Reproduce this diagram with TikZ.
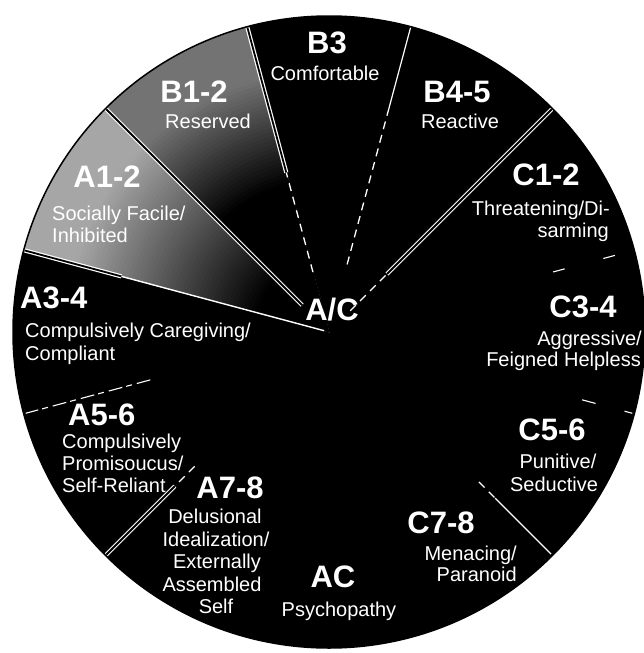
\documentclass[tikz,border=0pt]{standalone}
\usepackage{fontspec}
\setmainfont{Liberation Sans}
\tikzset{
  dline/.style={draw=white, line width=1.2pt, double=black, double distance=1.8pt},
  sline/.style={draw=white, line width=1.4pt},
  dashline/.style={draw=white, line width=1.3pt, dash pattern=on 8pt off 6pt},
  code/.style={text=white, font=\fontsize{31}{33}\selectfont\bfseries, inner sep=0pt},
  desc/.style={text=white, font=\fontsize{20}{22}\selectfont, inner sep=0pt},
}
\begin{document}
\begin{tikzpicture}[x=1pt,y=1pt]
\useasboundingbox (0,0) rectangle (644,-653);
\fill[white] (0,0) rectangle (644,-653);
\begin{scope}[shift={(329,-332)}]
  \fill[black] (0,0) circle (316);
  % B1-2 sector, grey towards the rim
  \begin{scope}
    \clip (0,0) -- (105:316) arc[start angle=105, end angle=135, radius=316] -- cycle;
    \foreach \r in {316,312,...,150} {
      \pgfmathsetmacro\p{max(55,min(100,100-45*(\r-155)/110))}
      \fill[black!\p] (0,0) circle (\r);
    }
  \end{scope}
  % A1-2 sector, light grey
  \begin{scope}
    \clip (0,0) -- (135:316) arc[start angle=135, end angle=165, radius=316] -- cycle;
    \foreach \r in {316,312,...,70} {
      \pgfmathsetmacro\p{max(35,min(100,100-65*(\r-75)/190))}
      \fill[black!\p] (0,0) circle (\r);
    }
  \end{scope}
  \draw[black, line width=1.5pt] (0,0) circle (316);
  % sector boundaries
  \draw[dline] (135:38) -- (135:315);
  \draw[sline] (165:5) -- (165:215);
  \draw[dline] (165:215) -- (165:315);
  \draw[dline] (105:165) -- (105:315);
  \draw[dashline] (105:62) -- (105:165);
  \draw[sline, line width=1.2pt] (75:230) -- (75:315);
  \draw[dashline] (75:70) -- (75:230);
  \draw[dline] (45:82) -- (45:315);
  \draw[dashline] (45:30) -- (45:82);
  \draw[dline] (225:218) -- (225:315);
  \draw[dashline] (225:190) -- (225:218);
  \draw[sline] (315:235) -- (315:314);
  \draw[dashline] (315:212) -- (315:235);
  \draw[dashline, line width=1.1pt, dash pattern=on 14pt off 5pt on 6pt off 4pt] (195:185) -- (195:314);
  \draw[dashline, line width=1.1pt, dash pattern=on 12pt off 40pt] (15:232) -- (15:314);
  \draw[dashline, line width=1.1pt, dash pattern=on 14pt off 30pt] (-15:262) -- (-15:314);
\end{scope}
% labels
\node[code, anchor=base] (b3) at (327,-53) {B3};
\node[desc, anchor=base] (b3d) at (325,-80) {Comfortable};
\node[code, anchor=base] (b12) at (194,-102) {B1-2};
\node[desc, anchor=base] (b12d) at (208,-128) {Reserved};
\node[code, anchor=base] (b45) at (457,-102) {B4-5};
\node[desc, anchor=base] (b45d) at (460,-128) {Reactive};
\node[code, anchor=base] (a12) at (107,-187) {A1-2};
\node[desc, anchor=base west] (a12d1) at (52,-220) {Socially Facile/};
\node[desc, anchor=base west] (a12d2) at (52,-242) {Inhibited};
\node[code, anchor=base] (c12) at (546,-185) {C1-2};
\node[desc, anchor=base east] (c12d1) at (610,-215) {Threatening/Di-};
\node[desc, anchor=base east] (c12d2) at (609,-237) {sarming};
\node[code, anchor=base west] (a34) at (20,-308) {A3-4};
\node[desc, anchor=base west] (a34d1) at (25,-337) {Compulsively Caregiving/};
\node[desc, anchor=base west] (a34d2) at (25,-360) {Compliant};
\node[code, anchor=base] (c34) at (583,-317) {C3-4};
\node[desc, anchor=base east] (c34d1) at (642,-345) {Aggressive/};
\node[desc, anchor=base east] (c34d2) at (641,-366) {Feigned Helpless};
\node[code, anchor=base west] (a56) at (68,-425) {A5-6};
\node[desc, anchor=base west] (a56d1) at (62,-448) {Compulsively};
\node[desc, anchor=base west] (a56d2) at (62,-470) {Promisoucus/};
\node[desc, anchor=base west] (a56d3) at (62,-492) {Self-Reliant};
\node[code, anchor=base] (a78) at (230,-498) {A7-8};
\node[desc, anchor=base] (a78d1) at (215,-523) {Delusional};
\node[desc, anchor=base] (a78d2) at (216,-546) {Idealization/};
\node[desc, anchor=base] (a78d3) at (217,-568) {Externally};
\node[desc, anchor=base] (a78d4) at (212,-591) {Assembled};
\node[desc, anchor=base] (a78d5) at (216,-613) {Self};
\node[code, anchor=base] (c56) at (552,-440) {C5-6};
\node[desc, anchor=base] (c56d1) at (558,-468) {Punitive/};
\node[desc, anchor=base] (c56d2) at (554,-491) {Seductive};
\node[code, anchor=base] (c78) at (441,-533) {C7-8};
\node[desc, anchor=base east] (c78d1) at (517,-560) {Menacing/};
\node[desc, anchor=base east] (c78d2) at (517,-581) {Paranoid};
\node[code, anchor=base] (ac) at (333,-587) {AC};
\node[desc, anchor=base] (acd) at (339,-616) {Psychopathy};
\node[code, anchor=base] (aoc) at (332,-320) {A/C};
\end{tikzpicture}
\end{document}
